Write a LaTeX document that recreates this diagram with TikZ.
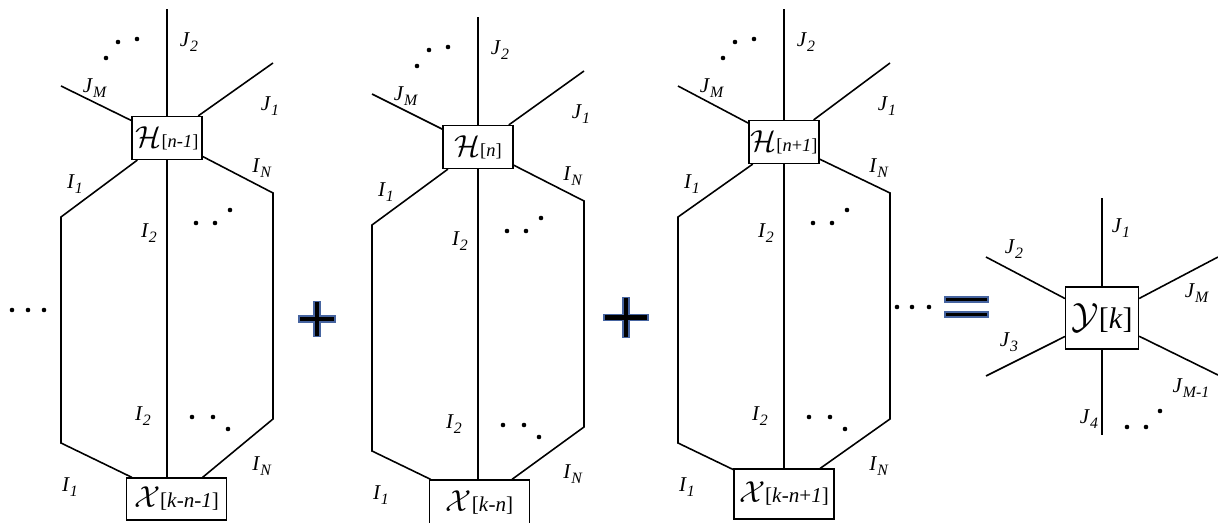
\documentclass[tikz,border=0pt]{standalone}
\usepackage{fontspec}
\setmainfont{Liberation Serif}
\usetikzlibrary{positioning, calc}
\definecolor{opblue}{RGB}{70,100,160}
\newcommand{\lab}[2]{\textit{#1}\raisebox{-0.5ex}{\fontsize{9}{9}\selectfont\textit{#2}}}
\newcommand{\boxtext}[4]{{\fontsize{#1}{#1}\selectfont$\mathcal{#2}$}{\fontsize{#3}{#3}\selectfont[#4]}}
\tikzset{
    vertex/.style={rectangle, draw, line width=0.7pt, fill=white, inner sep=0.5pt, align=center},
    leg/.style={line width=0.9pt},
    lbl/.style={inner sep=0pt, font=\fontsize{12}{12}\selectfont},
    opsign/.style={fill=black, draw=opblue, line width=0.6pt}
}

\begin{document}
\begin{tikzpicture}[x=0.02cm, y=-0.02cm]
    \useasboundingbox (0,0) rectangle (1218,523);

    % three cluster diagrams of the sum
    \foreach \cx/\cy/\hy/\hh/\xx/\xo/\xc/\xh/\i in {167/0/138/{\textit{n}-\textit{1}}/{\textit{k}-\textit{n}-\textit{1}}/9.5/499/0.84cm/a,
        478/8/139/{\textit{n}}/{\textit{k}-\textit{n}}/1.5/495/0.92cm/b,
        784/0/142/{\textit{n}+\textit{1}}/{\textit{k}-\textit{n}+\textit{1}}/0/494/1cm/c}{
    \begin{scope}[shift={(\cx,\cy)}]
        \node[vertex, minimum width=1.4cm, minimum height=0.86cm] (H\i) at (0,\hy) {\boxtext{16}{H}{10.5}{\hh}};
        \node[vertex, minimum width=2cm, minimum height=\xh] (X\i) at (\xo,\xc) {\boxtext{16}{X}{12}{\xx}};
        \coordinate (top\i) at (0,9);
        \coordinate (jm\i) at (-106,86);
        \coordinate (jo\i) at (106,63);
        \coordinate (ia\i) at (-106,217);
        \coordinate (ib\i) at (-106,443);
        \coordinate (na\i) at (106,193);
        \coordinate (nb\i) at (106,419);
        \draw[leg] (H\i.north) -- (top\i);
        \draw[leg] (H\i) -- (jm\i);
        \draw[leg] (H\i) -- (jo\i);
        \draw[leg] (H\i) -- (ia\i) -- (ib\i) -- (X\i);
        \draw[leg] (H\i) -- (na\i) -- (nb\i) -- (X\i);
        \draw[leg] (H\i.south) -- (H\i.south |- X\i.north);
        % labels
        \node[lbl] (ljt\i) at (22,42) {\lab{J}{2}};
        \node[lbl] (ljm\i) at (-72,88) {\lab{J}{M}};
        \node[lbl] (ljo\i) at (103,106) {\lab{J}{1}};
        \node[lbl] (lia\i) at (-92,184) {\lab{I}{1}};
        \node[lbl] (lna\i) at (95,168) {\lab{I}{N}};
        \node[lbl] (lta\i) at (-18,233) {\lab{I}{2}};
        \node[lbl] (ltb\i) at (-24,416) {\lab{I}{2}};
        \node[lbl] (lnb\i) at (95,466) {\lab{I}{N}};
        \node[lbl] (lib\i) at (-97,487) {\lab{I}{1}};
        \foreach \dx/\dy in {-61/58, -49/42, -30/39, 29/223, 48/223, 63/210, 25/417, 46/417, 61/429}
            \fill (\dx,\dy) circle[radius=1.3pt];
    \end{scope}
    }

    % outer dots
    \foreach \dx/\dy in {12/310, 28/310, 44/310, 897/307, 912/307, 929/307}
        \fill (\dx,\dy) circle[radius=1.3pt];

    % plus signs
    \foreach \px/\py/\pa/\pb in {317/319/18/17.5, 626/317.5/22/20}
        \filldraw[opsign] (\px-3,\py-\pb) -- (\px+3,\py-\pb) -- (\px+3,\py-3) -- (\px+\pa,\py-3)
            -- (\px+\pa,\py+3) -- (\px+3,\py+3) -- (\px+3,\py+\pb) -- (\px-3,\py+\pb)
            -- (\px-3,\py+3) -- (\px-\pa,\py+3) -- (\px-\pa,\py-3) -- (\px-3,\py-3) -- cycle;

    % equals sign
    \filldraw[opsign] (945,297) rectangle (988,302);
    \filldraw[opsign] (945,312) rectangle (988,317);

    % result vertex
    \node[vertex, minimum width=1.46cm, minimum height=1.24cm] (Y) at (1102,318) {\boxtext{20}{Y}{17}{\textit{k}}};
    \coordinate (yt) at (1102,198);
    \coordinate (yb) at (1102,435);
    \coordinate (ya) at (986,257);
    \coordinate (yc) at (986,376);
    \coordinate (ym) at (1218,257);
    \coordinate (yn) at (1218,375);
    \draw[leg] (Y.north) -- (yt);
    \draw[leg] (Y.south) -- (yb);
    \draw[leg] (Y) -- (ya);
    \draw[leg] (Y) -- (yc);
    \draw[leg] (Y) -- (ym);
    \draw[leg] (Y) -- (yn);
    \node[lbl] (yl1) at (1121,228) {\lab{J}{1}};
    \node[lbl] (yl2) at (1014,249) {\lab{J}{2}};
    \node[lbl] (yl3) at (1009,342) {\lab{J}{3}};
    \node[lbl] (yl4) at (1089,419) {\lab{J}{4}};
    \node[lbl] (ylm) at (1197,293) {\lab{J}{M}};
    \node[lbl] (yln) at (1191,388) {\lab{J}{M-1}};
    \foreach \dx/\dy in {1127/427, 1146/427, 1160/411}
        \fill (\dx,\dy) circle[radius=1.3pt];
\end{tikzpicture}
\end{document}
